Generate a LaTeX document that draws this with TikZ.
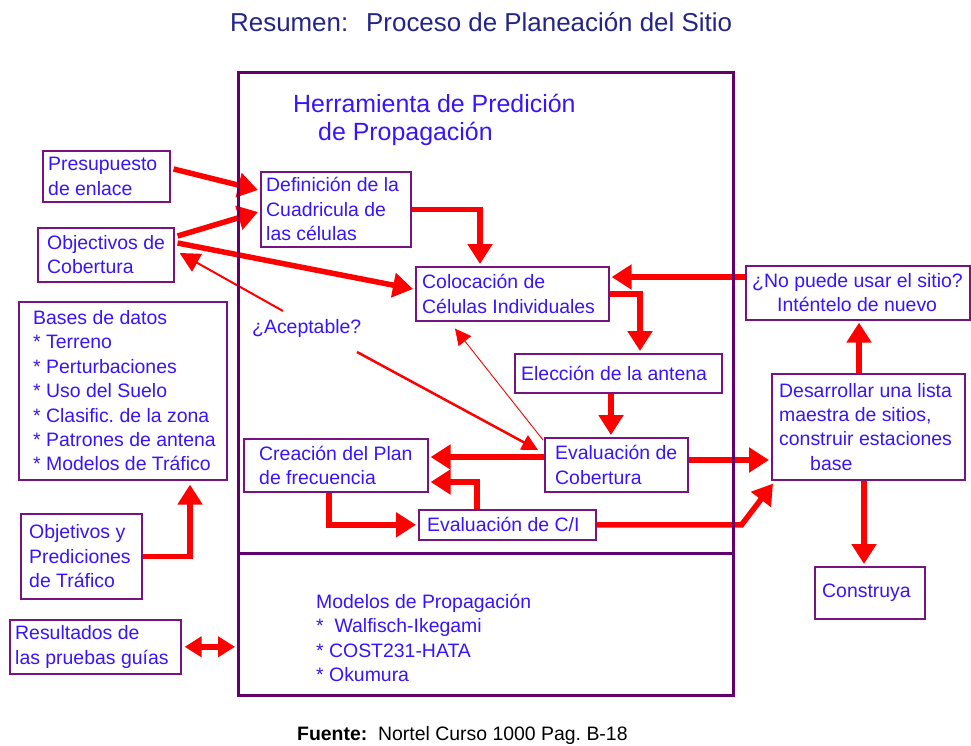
\documentclass[tikz,border=0pt]{standalone}
\usepackage{fontspec}
\setmainfont{Liberation Sans}
\usetikzlibrary{arrows.meta,calc}
\definecolor{txtblue}{RGB}{55,20,255}
\definecolor{navy}{RGB}{35,35,140}
\definecolor{boxpurple}{RGB}{120,20,130}
\definecolor{framepurple}{RGB}{100,0,110}
\definecolor{arrowred}{RGB}{255,0,0}
\frenchspacing
\newcommand\diagbox[7]{%
  \node[boxnode, minimum width={(#4-#2)*1bp}, minimum height={(#5-#3)*1bp}] (#1) at (#2,#3) {};
  \node[boxtext] (#1-t) at ($(#1.west)+(#6,0)$) {#7};
}
\begin{document}
\begin{tikzpicture}[x=1bp,y=-1bp,
  boxnode/.style={draw=boxpurple, line width=1.6bp, anchor=north west, inner sep=0pt},
  boxtext/.style={anchor=west, inner sep=0pt, align=left, text=txtblue, font=\fontsize{19.5}{24.5}\selectfont},
  flow/.style={draw=arrowred, line width=5.5bp, -{Triangle[length=20bp,width=24bp]}},
  thinflow/.style={draw=arrowred, line width=2bp, -{Triangle[length=20bp,width=20bp]}},
  midflow/.style={draw=arrowred, line width=2.5bp, -{Triangle[length=16bp,width=16bp]}},
  hairflow/.style={draw=arrowred, line width=0.9bp, -{Triangle[length=16bp,width=16bp]}},
  both/.style={draw=arrowred, line width=5.5bp, {Triangle[length=17bp,width=20bp]}-{Triangle[length=17bp,width=20bp]}},
  framestyle/.style={draw=framepurple, line width=3bp}]
\useasboundingbox (0,0) rectangle (971,746);

% title and captions
\node[text=navy, font=\fontsize{26}{30}\selectfont, anchor=base west, inner sep=0pt] (title) at (230,32) {Resumen:\hspace{18bp}Proceso de Planeación del Sitio};
\node[anchor=north west, inner sep=0pt, minimum width=495bp, minimum height=622bp] (frame) at (238,73) {};
\node[text=txtblue, font=\fontsize{25}{28}\selectfont, anchor=base west, inner sep=0pt] (tool) at (293,112) {Herramienta de Predición};
\node[text=txtblue, font=\fontsize{25}{28}\selectfont, anchor=base west, inner sep=0pt] (tool2) at (318,140) {de Propagación};
\node[text=txtblue, font=\fontsize{19.5}{24.5}\selectfont, anchor=base west, inner sep=0pt] (acc) at (252,333) {¿Aceptable?};
\node[text=txtblue, font=\fontsize{19.5}{24.5}\selectfont, anchor=west, inner sep=0pt, align=left] (models) at (316,638) {Modelos de Propagación\\*\ \ Walfisch-Ikegami\\* COST231-HATA\\* Okumura};
\node[font=\fontsize{19.5}{24}\selectfont, anchor=base west, inner sep=0pt] (src) at (297,740) {\textbf{Fuente:}\ \ Nortel Curso 1000 Pag. B-18};

% boxes
\diagbox{pres}{42}{150}{169}{201}{6}{Presupuesto\\de enlace}
\diagbox{obj}{37}{227}{173}{281}{10}{Objectivos de\\Cobertura}
\diagbox{defn}{260}{171}{410}{246}{6}{Definición de la\\Cuadricula de\\las células}
\diagbox{coloc}{415}{266}{608}{320}{7}{Colocación de\\Células Individuales}
\diagbox{nopuede}{745}{265}{969}{319}{7}{¿No puede usar el sitio?\\\hspace*{25bp}Inténtelo de nuevo}
\diagbox{elec}{514}{353}{721}{392}{7}{Elección de la antena}
\diagbox{desar}{771}{373}{964}{479}{8}{Desarrollar una lista\\maestra de sitios,\\construir estaciones\\\hspace*{31bp}base}
\diagbox{bases}{18}{301}{226}{479}{15}{Bases de datos\\* Terreno\\* Perturbaciones\\* Uso del Suelo\\* Clasific. de la zona\\* Patrones de antena\\* Modelos de Tráfico}
\diagbox{crea}{243}{438}{427}{491}{16}{Creación del Plan\\de frecuencia}
\diagbox{evcob}{544}{437}{687}{491}{11}{Evaluación de\\Cobertura}
\diagbox{ci}{418}{509}{595}{539}{9}{Evaluación de C/I}
\diagbox{objtraf}{20}{513}{141}{598}{9}{Objetivos y\\Prediciones\\de Tráfico}
\diagbox{result}{9}{619}{180}{673}{6}{Resultados de\\las pruebas guías}
\diagbox{constr}{814}{566}{924}{618}{8}{Construya}

% free ends near the question
\coordinate (a4s) at (283,311);
\coordinate (a5s) at (357,352);
\coordinate (divy) at (0,553);

% connectors
\draw[flow] ($(pres.north east)+(3,19)$) -- ($(defn.north west)+(-2,19)$);
\draw[flow] ($(obj.north east)+(3,9)$) -- ($(defn.north west)+(-2,41)$);
\draw[flow] ($(obj.north east)+(3,16)$) -- ($(coloc.north west)+(-2,23)$);
\draw[thinflow] (a4s) -- ($(obj.north east)+(5,26)$);
\draw[midflow] (a5s) -- ($(evcob.north west)+(-6,13)$);
\draw[hairflow] ($(evcob.north west)+(-1,3)$) -- ($(coloc.south west)+(40,7)$);
\draw[flow] (defn.east) -| ($(coloc.north west)+(65,-2)$);
\draw[flow] (coloc.east) -| ($(elec.north west)+(126,-2)$);
\draw[flow] ($(elec.south west)+(97,0)$) -- ($(evcob.north west)+(67,-2)$);
\draw[flow] ($(evcob.north west)+(0,20)$) -- ($(crea.north east)+(2,19)$);
\draw[flow] ($(evcob.north east)+(0,23)$) -- ($(desar.north west)+(-2,87)$);
\draw[flow] ($(nopuede.north west)+(0,12)$) -- ($(coloc.north east)+(2,11)$);
\draw[flow] ($(desar.north west)+(88,0)$) -- ($(nopuede.south west)+(114,2)$);
\draw[flow] ($(desar.south west)+(93,0)$) -- ($(constr.north west)+(50,-2)$);
\draw[flow] (ci.east) -- ++(145,0) -- ($(desar.south west)+(2,3)$);
\draw[flow] ($(crea.south west)+(86,0)$) |- ($(ci.west)+(-2,0)$);
\draw[flow] ($(ci.north west)+(59,0)$) |- ($(crea.north east)+(2,44)$);
\draw[flow] (objtraf.east) -| ($(bases.south west)+(172,4)$);
\draw[both] ($(result.east)+(3,0)$) -- ($(frame.west |- result.east)+(-3,0)$);

% frame on top
\draw[framestyle] (frame.north west) rectangle (frame.south east);
\draw[framestyle] (frame.west |- divy) -- (frame.east |- divy);
\end{tikzpicture}
\end{document}
